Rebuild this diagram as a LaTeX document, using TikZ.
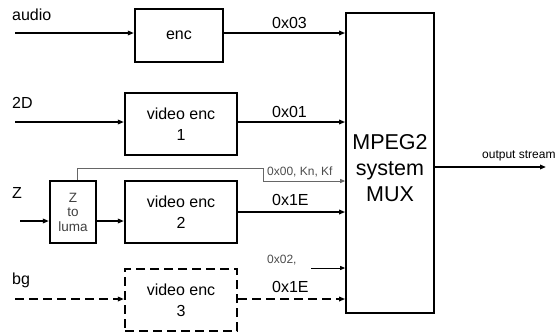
\documentclass[tikz,border=0pt]{standalone}
\usepackage{fontspec}
\setmainfont{Liberation Sans}
\usetikzlibrary{arrows.meta}
\begin{document}
\begin{tikzpicture}[x=1pt,y=-1pt,
  blk/.style={draw, line width=2.2pt, inner sep=0pt, align=center,
    font=\fontsize{16}{21}\selectfont},
  dblk/.style={blk, dash pattern=on 9pt off 5pt},
  arr/.style={-{Triangle[length=6pt,width=4.5pt]}, line width=1.5pt},
  thinarr/.style={-{Triangle[length=5pt,width=4pt]}, line width=0.9pt},
  lbl/.style={font=\fontsize{16}{18}\selectfont, anchor=base west, inner sep=0pt},
  slbl/.style={font=\fontsize{12}{14}\selectfont, anchor=base west, inner sep=0pt, text=black!70}]
\useasboundingbox (0,0) rectangle (558,333);

% blocks
\node[blk, minimum width=88pt, minimum height=53pt] (enc) at (179,35.5) {enc};
\node[blk, minimum width=112pt, minimum height=62pt] (v1) at (181,124) {video enc\\1};
\node[blk, minimum width=46pt, minimum height=62pt, font=\fontsize{13.5}{14.5}\selectfont, text=black!75] (zl) at (73,212) {Z\\to\\luma};
\node[blk, minimum width=112pt, minimum height=62pt] (v2) at (181,212) {video enc\\2};
\node[dblk, minimum width=112pt, minimum height=62pt] (v3) at (181,300) {video enc\\3};
\node[draw, line width=1.7pt, minimum width=88pt, minimum height=300pt, inner sep=0pt] (mux) at (390,163) {};
\node[align=center, font=\fontsize{21.5}{26}\selectfont, inner sep=0pt] (muxt) at (390,168) {MPEG2\\system\\MUX};

% input coordinates
\coordinate (ain) at (15,33);
\coordinate (din) at (15,122);
\coordinate (zin) at (20,221);
\coordinate (bin) at (15,299);
\coordinate (outp) at (546,167);
\coordinate (k0) at (311,268);

% input labels
\node[lbl] (la) at (12,20) {audio};
\node[lbl] (l2d) at (12,108) {2D};
\node[lbl] (lz) at (12,198) {Z};
\node[lbl] (lbg) at (12,284) {bg};

% inputs
\draw[arr] (ain) -- (enc.west |- ain);
\draw[arr] (din) -- (v1.west |- din);
\draw[arr] (zin) -- (zl.west |- zin);
\draw[arr] (zl.east |- zin) -- (v2.west |- zin);
\draw[arr, dash pattern=on 9pt off 5pt] (bin) -- (v3.west |- bin);

% outputs to mux
\draw[arr] (enc.east |- ain) -- (mux.west |- ain);
\draw[arr] (v1.east |- din) -- (mux.west |- din);
\draw[arr] (v2.east |- 0,212) -- (mux.west |- 0,212);
\draw[arr, dash pattern=on 9pt off 5pt] (v3.east |- bin) -- (mux.west |- bin);
\draw[thinarr, black!60] (zl.north -| 77,0) |- (263,168) |- (mux.west |- 0,181);
\draw[thinarr] (k0) -- (mux.west |- k0);
\draw[arr] (mux.east |- outp) -- (outp);

% channel labels
\node[lbl] (c1) at (272,28) {0x03};
\node[lbl] (c2) at (272,117) {0x01};
\node[slbl] (c3) at (267,175) {0x00, Kn, Kf};
\node[lbl] (c4) at (272,205) {0x1E};
\node[slbl] (c5) at (267,263) {0x02,};
\node[lbl] (c6) at (272,292) {0x1E};
\node[slbl, text=black] (lo) at (482,158) {output stream};
\end{tikzpicture}
\end{document}
